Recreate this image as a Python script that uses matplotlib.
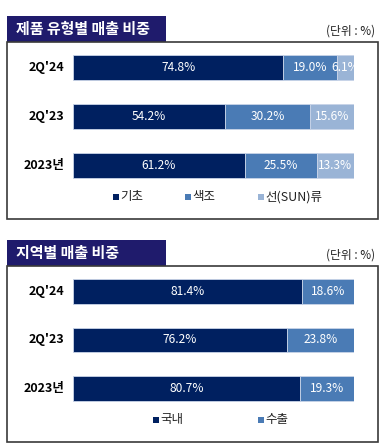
import matplotlib.pyplot as plt
from matplotlib.patches import Rectangle

plt.rcParams['font.family'] = ['Noto Sans CJK KR', 'DejaVu Sans']

# 데이터
periods = ["2Q'24", "2Q'23", "2023년"]

product_names = ['기초', '색조', '선(SUN)류']
base_share = [74.8, 54.2, 61.2]
color_share = [19.0, 30.2, 25.5]
sun_share = [6.1, 15.6, 13.3]

region_names = ['국내', '수출']
domestic_share = [81.4, 76.2, 80.7]
export_share = [18.6, 23.8, 19.3]

W, H = 384, 445
navy = '#002060'
mid = '#4a7bb5'
light = '#9ab4d6'
title_bg = '#1f1b6c'


def fx(x):
    return x / W


def fy(y):
    return 1 - y / H


fig = plt.figure(figsize=(W / 100, H / 100), dpi=100)


def panel(top_title, box_top, box_bottom, title, series, names, colors, legend_x):
    # 제목 박스
    fig.patches.append(Rectangle((fx(7), fy(box_top)), fx(166) - fx(7), fy(top_title) - fy(box_top),
                                 transform=fig.transFigure, facecolor=title_bg, edgecolor='none'))
    fig.text(fx(16), (fy(top_title) + fy(box_top)) / 2, title, color='white', fontsize=10.8,
             fontweight='bold', va='center', ha='left')
    fig.text(fx(375), fy(top_title + 15), '(단위 : %)', fontsize=8.5, ha='right', va='center', color='#222222')
    # 패널 테두리
    fig.patches.append(Rectangle((fx(7), fy(box_bottom)), fx(378) - fx(7), fy(box_top) - fy(box_bottom),
                                 transform=fig.transFigure, facecolor='none', edgecolor='#3a3a3a', lw=1.2))

    ax = fig.add_axes([fx(73), fy(box_bottom), fx(354) - fx(73), fy(box_top) - fy(box_bottom)])
    ax.set_xlim(0, 100)
    ax.set_ylim(3.1, -0.52)
    ax.axis('off')

    left = [0] * len(periods)
    for vals, col in zip(series, colors):
        ax.barh(range(len(periods)), vals, left=left, height=0.51, color=col,
                edgecolor='#c8d4e8', linewidth=0.6)
        for i, v in enumerate(vals):
            ax.text(left[i] + v / 2, i, f'{v:.1f}%', color='white', fontsize=8.6,
                    ha='center', va='center')
        left = [l + v for l, v in zip(left, vals)]

    for i, p in enumerate(periods):
        ax.text(-3, i, p, fontsize=9, fontweight='heavy', ha='right', va='center', color='black')

    # 범례
    for name, col, lx in zip(names, colors, legend_x):
        fig.patches.append(Rectangle((fx(lx), fy(box_bottom - 19)), fx(6), 6 / H,
                                     transform=fig.transFigure, facecolor=col, edgecolor='none'))
        fig.text(fx(lx + 7), fy(box_bottom - 22), name, fontsize=9, ha='left', va='center', color='#222222')


panel(16, 42, 219, '제품 유형별 매출 비중', [base_share, color_share, sun_share],
      product_names, [navy, mid, light], [113, 185, 258])
panel(240, 266, 442, '지역별 매출 비중', [domestic_share, export_share],
      region_names, [navy, mid], [153, 258])

fig.savefig('out.png', dpi=100)
